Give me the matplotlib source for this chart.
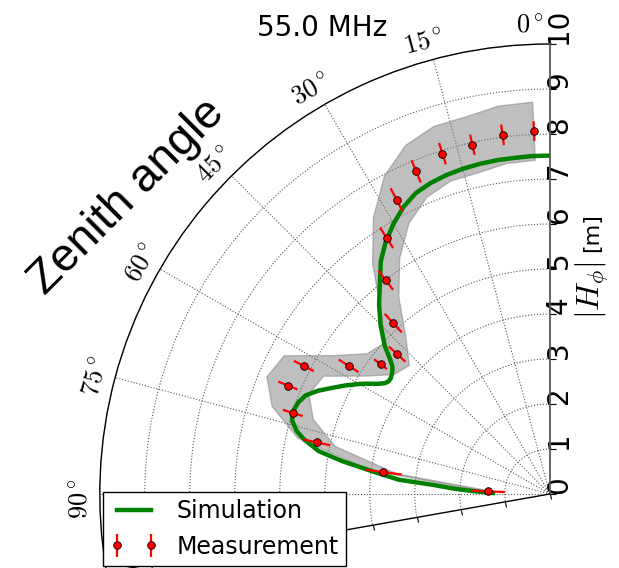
import numpy as np
import matplotlib
matplotlib.use("Agg")
import matplotlib.pyplot as plt

plt.rcParams["font.family"] = ["DejaVu Sans"]
plt.rcParams["mathtext.fontset"] = "cm"

# --- data -------------------------------------------------------------
# zenith-angle bins of the measurement (deg)
meas_zenith = [2.5, 7.5, 12.5, 17.5, 22.5, 27.5, 32.5, 37.5, 42.5,
               47.5, 52.5, 57.5, 62.5, 67.5, 72.5, 77.5, 82.5, 87.5]
# measured |H_phi| (m) and statistical uncertainty
meas_h = [8.07, 8.05, 7.95, 7.93, 7.76, 7.37, 6.75, 5.99, 5.15,
          4.60, 4.74, 5.30, 6.16, 6.30, 5.99, 5.31, 3.73, 1.37]
meas_err = [0.22, 0.23, 0.23, 0.25, 0.27, 0.29, 0.27, 0.27, 0.28,
            0.25, 0.18, 0.26, 0.25, 0.23, 0.23, 0.31, 0.41, 0.37]
# relative systematic uncertainty (grey band)
sys_rel = 0.08

# simulated antenna response
sim_zenith = [0, 3, 6, 9, 12, 15, 18, 21, 24, 27, 30, 33, 36, 39, 42, 45,
              48, 50, 51, 52, 53, 54, 55, 56, 57, 58, 59, 60, 62, 64, 66,
              68, 70, 72, 74, 76, 77.5, 79.5, 81, 82.7, 84.6, 85.5, 86.8,
              87.8, 89]
sim_h = [7.52, 7.52, 7.51, 7.51, 7.50, 7.48, 7.45, 7.40, 7.32, 7.16, 6.94,
         6.69, 6.39, 6.00, 5.67, 5.32, 4.94, 4.62, 4.50, 4.44, 4.40, 4.37,
         4.37, 4.41, 4.50, 4.62, 4.76, 4.89, 5.14, 5.38, 5.64, 5.85, 5.95,
         5.99, 5.96, 5.80, 5.59, 5.22, 4.67, 3.98, 3.37, 2.62, 2.12, 1.72,
         1.26]

theta_ticks = [0, 15, 30, 45, 60, 75, 90]
r_ticks = [0, 1, 2, 3, 4, 5, 6, 7, 8, 9, 10]
frequency_label = "55.0 MHz"

# --- layout -------------------------------------------------------------
W, H = 619, 568
fig = plt.figure(figsize=(W / 100, H / 100), dpi=100)

theta_max = 100.0
cx, cy, R = 547.5, 494.0, 450.0          # wedge centre / radius in pixels
wedge_h = R + R * np.sin(np.deg2rad(theta_max - 90))
side = max(wedge_h, R)
left = cx - R - (side - R) / 2
top = cy - R
ax = fig.add_axes([left / W, 1 - (top + side) / H, side / W, side / H],
                  projection="polar")

ax.set_theta_zero_location("N")
ax.set_theta_direction(1)
ax.set_thetamin(0)
ax.set_thetamax(theta_max)
ax.set_ylim(0, 10)

# --- marks --------------------------------------------------------------
t = np.deg2rad(meas_zenith)
h = np.asarray(meas_h)
band_t = np.concatenate([t, t[::-1]])
band_r = np.concatenate([h * (1 + sys_rel), (h * (1 - sys_rel))[::-1]])
ax.fill(band_t, band_r, facecolor="gray", edgecolor="gray", alpha=0.5,
        lw=1.0, zorder=2)

ax.plot(np.deg2rad(sim_zenith), sim_h, color="green", lw=3.2, zorder=3,
        solid_joinstyle="round", label="Simulation")

ax.errorbar(t, h, yerr=meas_err, fmt="o", color="red", ecolor="red",
            mfc="red", mec="black", mew=0.6, ms=5.5, elinewidth=1.6,
            capsize=0, zorder=4, label="Measurement")

# --- axes decoration ----------------------------------------------------
ax.set_xticks(np.deg2rad(theta_ticks))
ax.set_xticklabels([])
ax.set_yticks(r_ticks)
ax.set_yticklabels([str(v) for v in r_ticks])
ax.grid(True, ls=":", color="0.35", lw=0.8)

ax.tick_params(axis="x", direction="in", length=5, width=0.8)
ax.tick_params(axis="y", labelrotation=90, labelsize=20, pad=2.5,
               length=4, width=0.8, left=True, right=True,
               labelleft=True, labelright=False)

for name in ("polar", "end"):
    ax.spines[name].set_color("black")
    ax.spines[name].set_linewidth(1.0)
ax.spines["start"].set_color("0.35")
ax.spines["start"].set_linewidth(1.3)

# zenith-angle labels set just outside the rim, turned along it;
# the 0 deg one is nudged clear of the radial tick label "10"
for deg in theta_ticks:
    nudge = 2.4 if deg == 0 else 0.5
    ax.text(np.deg2rad(deg + nudge), 10.42, rf"${deg}^\circ$", rotation=deg,
            rotation_mode="anchor", ha="center", va="center",
            fontsize=19, clip_on=False)

ax.set_title(frequency_label, fontsize=20, y=1.0, pad=6)

# radial axis label: math part and unit
fig.text(592 / W, 1 - 290 / H, r"$|H_\phi|$", rotation=90,
         ha="center", va="center", fontsize=23)
fig.text(592 / W, 1 - 233 / H, "[m]", rotation=90,
         ha="center", va="center", fontsize=16)

fig.text(127 / W, 1 - 197 / H, "Zenith angle", rotation=45,
         ha="center", va="center", fontsize=33.5,
         family=["Liberation Sans", "DejaVu Sans"])

leg = ax.legend(loc="upper left", bbox_to_anchor=(103.3 / W, 1 - 491.7 / H),
                bbox_transform=fig.transFigure, numpoints=2, fontsize=17,
                fancybox=False, framealpha=1, edgecolor="black",
                borderpad=0.3, labelspacing=0.5, handlelength=2.0,
                handletextpad=0.8, borderaxespad=0)
leg.get_frame().set_linewidth(1.0)

fig.savefig("out.png", dpi=100)
